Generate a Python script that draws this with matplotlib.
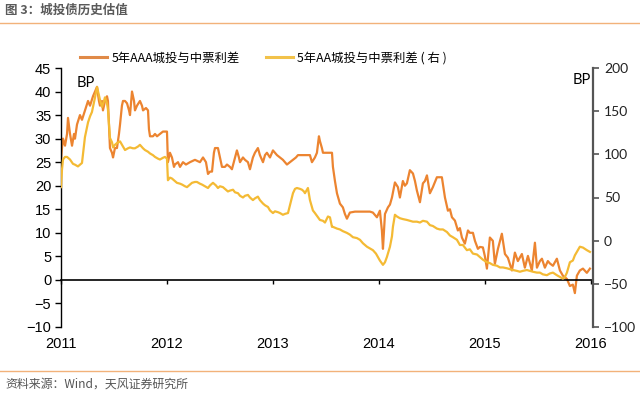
import matplotlib
matplotlib.use("Agg")
import matplotlib.pyplot as plt
from matplotlib.lines import Line2D

plt.rcParams['font.family'] = ['Liberation Sans', 'Noto Sans CJK SC', 'DejaVu Sans']

# ---------------- data ----------------
aaa_year = [2011.000, 2011.009, 2011.019, 2011.038, 2011.057, 2011.066, 2011.085, 2011.104, 2011.123, 2011.132,
            2011.151, 2011.179, 2011.198, 2011.226, 2011.255, 2011.274, 2011.302, 2011.321, 2011.340, 2011.358,
            2011.368, 2011.387, 2011.396, 2011.415, 2011.434, 2011.443, 2011.453, 2011.462, 2011.481, 2011.491,
            2011.509, 2011.528, 2011.547, 2011.557, 2011.575, 2011.585, 2011.604, 2011.623, 2011.642, 2011.651,
            2011.670, 2011.689, 2011.698, 2011.717, 2011.745, 2011.764, 2011.774, 2011.802, 2011.821, 2011.830,
            2011.840, 2011.868, 2011.887, 2011.906, 2011.934, 2011.962, 2012.000, 2012.009, 2012.028, 2012.047,
            2012.066, 2012.075, 2012.104, 2012.123, 2012.151, 2012.179, 2012.217, 2012.264, 2012.311, 2012.340,
            2012.368, 2012.387, 2012.406, 2012.425, 2012.443, 2012.453, 2012.481, 2012.500, 2012.519, 2012.547,
            2012.566, 2012.594, 2012.613, 2012.642, 2012.660, 2012.679, 2012.689, 2012.717, 2012.736, 2012.764,
            2012.783, 2012.811, 2012.830, 2012.858, 2012.877, 2012.906, 2012.925, 2012.943, 2012.972, 2013.000,
            2013.038, 2013.066, 2013.094, 2013.132, 2013.160, 2013.189, 2013.217, 2013.236, 2013.302, 2013.349,
            2013.368, 2013.396, 2013.415, 2013.434, 2013.443, 2013.462, 2013.472, 2013.519, 2013.557, 2013.566,
            2013.585, 2013.604, 2013.632, 2013.660, 2013.679, 2013.698, 2013.726, 2013.774, 2013.821, 2013.868,
            2013.915, 2013.943, 2013.981, 2014.009, 2014.028, 2014.038, 2014.057, 2014.085, 2014.104, 2014.123,
            2014.151, 2014.179, 2014.198, 2014.226, 2014.245, 2014.264, 2014.292, 2014.321, 2014.340, 2014.358,
            2014.387, 2014.415, 2014.434, 2014.453, 2014.481, 2014.509, 2014.547, 2014.594, 2014.623, 2014.651,
            2014.670, 2014.689, 2014.717, 2014.745, 2014.764, 2014.783, 2014.811, 2014.840, 2014.858, 2014.887,
            2014.906, 2014.934, 2014.953, 2014.981, 2015.000, 2015.019, 2015.047, 2015.075, 2015.094, 2015.123,
            2015.160, 2015.189, 2015.217, 2015.255, 2015.283, 2015.311, 2015.349, 2015.377, 2015.406, 2015.443,
            2015.472, 2015.491, 2015.519, 2015.538, 2015.566, 2015.594, 2015.613, 2015.642, 2015.679, 2015.708,
            2015.736, 2015.774, 2015.802, 2015.830, 2015.849, 2015.868, 2015.896, 2015.925, 2015.962, 2015.991]
aaa_spread = [25.4, 28, 30, 28.5, 31, 34.4, 31, 28.5, 31, 30,
              33, 35, 34, 36, 38, 37, 39, 40, 41, 38,
              37, 38, 36, 38, 39, 38, 33, 28, 27, 26,
              28, 28, 31, 33, 37, 38, 38, 37.5, 36, 35,
              40, 38, 36, 37, 38, 37, 36, 36.5, 36, 32,
              30.5, 30.5, 31, 30.5, 31, 31.5, 31.5, 25, 27, 26,
              24, 24.5, 25, 24, 25, 24.5, 25, 25.5, 25, 26,
              25, 22.5, 23, 23, 27, 28, 28, 26, 24, 24,
              24.5, 24, 23.5, 26, 27.5, 26, 25, 26, 25.5, 25,
              23.5, 26, 27, 28, 26.5, 25, 26.5, 27, 26, 27.5,
              26.5, 26, 25.5, 24.5, 25, 25.5, 26, 26.5, 26.5, 26.5,
              25, 26, 27, 30.5, 29.5, 28, 27, 27, 27, 24,
              21, 18.4, 16.2, 15.4, 14, 13, 14.3, 14.5, 14.5, 14.5,
              14.5, 14.3, 13.3, 14.7, 10.5, 6.6, 14, 15.4, 16, 17.5,
              20.7, 19.7, 17.5, 21, 20, 20.5, 23.3, 22.6, 21, 19,
              16.5, 20.5, 21, 22.2, 18.4, 19.7, 21.8, 21.8, 17.5, 14.7,
              15, 13.3, 12.6, 10.5, 11, 9, 7.7, 10.5, 10, 10,
              8.3, 6.6, 7, 6.9, 5, 2.4, 9, 8.3, 3.4, 6.6,
              9.8, 5.5, 4.7, 2, 5.8, 4, 5.5, 2.6, 5.1, 2,
              7.9, 2.6, 4, 4.5, 2.6, 4, 3.5, 3, 4.5, 2,
              0.9, 0.2, -1.3, -1, -2.8, 0.9, 2, 2.4, 1.5, 2.4]

aa_year = [2011.000, 2011.009, 2011.019, 2011.038, 2011.057, 2011.085, 2011.113, 2011.132, 2011.160, 2011.179,
           2011.198, 2011.226, 2011.255, 2011.274, 2011.292, 2011.321, 2011.340, 2011.349, 2011.368, 2011.387,
           2011.406, 2011.415, 2011.434, 2011.443, 2011.462, 2011.481, 2011.491, 2011.509, 2011.528, 2011.557,
           2011.585, 2011.604, 2011.632, 2011.651, 2011.679, 2011.698, 2011.726, 2011.745, 2011.774, 2011.792,
           2011.821, 2011.840, 2011.868, 2011.887, 2011.915, 2011.934, 2011.962, 2011.981, 2012.000, 2012.009,
           2012.028, 2012.047, 2012.075, 2012.094, 2012.123, 2012.142, 2012.170, 2012.189, 2012.217, 2012.236,
           2012.264, 2012.283, 2012.311, 2012.330, 2012.358, 2012.387, 2012.406, 2012.434, 2012.462, 2012.481,
           2012.500, 2012.528, 2012.557, 2012.575, 2012.594, 2012.623, 2012.642, 2012.670, 2012.689, 2012.717,
           2012.736, 2012.764, 2012.783, 2012.811, 2012.830, 2012.858, 2012.877, 2012.906, 2012.925, 2012.953,
           2012.972, 2013.000, 2013.019, 2013.047, 2013.066, 2013.094, 2013.113, 2013.142, 2013.160, 2013.189,
           2013.208, 2013.226, 2013.255, 2013.274, 2013.292, 2013.302, 2013.321, 2013.330, 2013.349, 2013.377,
           2013.396, 2013.425, 2013.443, 2013.472, 2013.491, 2013.519, 2013.538, 2013.557, 2013.566, 2013.604,
           2013.632, 2013.660, 2013.698, 2013.726, 2013.755, 2013.792, 2013.821, 2013.849, 2013.887, 2013.915,
           2013.943, 2013.972, 2013.991, 2014.009, 2014.038, 2014.057, 2014.075, 2014.104, 2014.123, 2014.132,
           2014.151, 2014.170, 2014.198, 2014.226, 2014.264, 2014.292, 2014.321, 2014.358, 2014.387, 2014.415,
           2014.453, 2014.481, 2014.509, 2014.547, 2014.575, 2014.604, 2014.642, 2014.670, 2014.698, 2014.736,
           2014.764, 2014.792, 2014.830, 2014.858, 2014.887, 2014.925, 2014.953, 2014.981, 2015.019, 2015.047,
           2015.075, 2015.113, 2015.142, 2015.170, 2015.208, 2015.236, 2015.264, 2015.302, 2015.330, 2015.358,
           2015.396, 2015.425, 2015.453, 2015.491, 2015.519, 2015.547, 2015.585, 2015.613, 2015.642, 2015.679,
           2015.708, 2015.736, 2015.755, 2015.774, 2015.802, 2015.830, 2015.849, 2015.868, 2015.896, 2015.925,
           2015.962, 2015.991]
aa_spread = [62, 82, 94, 97, 97, 94, 89, 88, 86, 88,
             90, 120, 137, 144, 149, 166, 178, 173, 163, 155,
             162, 166, 159, 152, 119, 114, 108, 111, 113, 115,
             109, 105, 107, 108, 107, 107, 109, 111, 107, 105,
             103, 101, 99, 97, 95, 94, 96, 97, 95, 70,
             73, 72, 69, 67, 66, 65, 63, 62, 65, 67,
             68, 68, 66, 65, 63, 61, 64, 67, 64, 61,
             63, 62, 59, 57, 58, 59, 56, 55, 52, 50,
             52, 53, 50, 47, 49, 51, 47, 43, 41, 39,
             35, 32, 34, 33, 32, 30, 31, 32, 41, 55,
             60, 61, 60, 59, 57, 55, 59, 61, 47, 35,
             32, 27, 24, 23, 21, 28, 27, 16, 16, 14,
             13, 11, 9, 7, 4, 3, 1, -3, -7, -9,
             -11, -15, -19, -23, -28, -25, -19, -7, 5, 16,
             30, 28, 26, 25, 24, 23, 22, 22, 21, 23,
             22, 18, 17, 14, 13, 13, 10, 6, 4, 1,
             -5, -5, -11, -10, -15, -16, -19, -22, -25, -26,
             -28, -29, -31, -31, -32, -33, -34, -35, -36, -35,
             -34, -35, -36, -37, -37, -39, -40, -38, -37, -40,
             -42, -44, -42, -37, -25, -23, -17, -13, -7, -8,
             -11, -13]

year_ticks = [2011, 2012, 2013, 2014, 2015, 2016]
left_ticks = [-10, -5, 0, 5, 10, 15, 20, 25, 30, 35, 40, 45]
right_ticks = [-100, -50, 0, 50, 100, 150, 200]

label_aaa = '5年AAA城投与中票利差'
label_aa = '5年AA城投与中票利差 ( 右 )'
title_text = '图 3：城投债历史估值'
source_text = '资料来源：Wind，天风证券研究所'

# ---------------- styles ----------------
c_aaa = '#EC8430'
c_aa = '#F4BA34'
c_rule = '#F2B27A'
cjk = ['Noto Sans CJK SC', 'DejaVu Sans']

fig = plt.figure(figsize=(6.4, 3.97), dpi=100)
fig.patch.set_facecolor('white')

ax = fig.add_axes([61 / 640, 1 - 327 / 397, (593 - 61) / 640, (327 - 68) / 397])
ax2 = ax.twinx()

ax.plot(aaa_year, aaa_spread, color=c_aaa, lw=1.6, solid_joinstyle='round')
ax2.plot(aa_year, aa_spread, color=c_aa, lw=1.6, solid_joinstyle='round')

ax.set_xlim(2011, 2016.02)
ax.set_ylim(-10, 45)
ax2.set_ylim(-100, 200)

ax.set_yticks(left_ticks)
ax2.set_yticks(right_ticks)

for s in ['top', 'right']:
    ax.spines[s].set_visible(False)
ax.spines['left'].set_color('black')
ax.spines['left'].set_linewidth(1.0)
ax.spines['bottom'].set_position(('data', 0))
ax.spines['bottom'].set_color('black')
ax.spines['bottom'].set_linewidth(1.2)

for s in ['top', 'left', 'bottom']:
    ax2.spines[s].set_visible(False)
ax2.spines['right'].set_color('#555555')
ax2.spines['right'].set_linewidth(1.6)

ax.set_xticks(year_ticks)
ax.tick_params(axis='x', direction='out', length=3, width=1, labelbottom=False, color='black')
ax.tick_params(axis='y', direction='out', length=4, width=1, labelsize=10.5, pad=3, colors='black')
ax2.tick_params(axis='y', direction='out', length=4, width=1.2, labelsize=10, pad=4,
                color='#555555', labelcolor='#222222')
for lab in ax2.get_yticklabels():
    lab.set_family('Lato')

sec = ax.secondary_xaxis(0)
sec.set_xticks(year_ticks)
sec.set_xticklabels([str(y) for y in year_ticks])
sec.spines['bottom'].set_visible(False)
sec.tick_params(axis='x', length=0, labelsize=10.5, pad=7)

ax.text(0.047, 0.942, 'BP', transform=ax.transAxes, ha='center', va='center',
        fontsize=10.5, family='Lato', color='black')
ax.text(0.978, 0.954, 'BP', transform=ax.transAxes, ha='center', va='center',
        fontsize=10.5, family='Lato', color='black')

handles = [Line2D([], [], color='#E08A48', lw=2.2), Line2D([], [], color='#F2C24A', lw=2.2)]
fig.legend(handles, [label_aaa, label_aa], loc='center left',
           bbox_to_anchor=(80 / 640, 1 - 58 / 397), ncol=2, frameon=False,
           prop={'family': cjk, 'size': 8.9}, handlelength=2.2, handletextpad=0.35,
           columnspacing=2.1, borderpad=0, borderaxespad=0)

fig.text(5 / 640, 1 - 10 / 397, title_text, ha='left', va='center', fontsize=9,
         family=cjk, color='#5a5a5a', weight='bold')
fig.add_artist(Line2D([0, 1], [1 - 22.5 / 397, 1 - 22.5 / 397], transform=fig.transFigure,
                      color=c_rule, lw=1.0))
fig.add_artist(Line2D([0, 1], [1 - 371 / 397, 1 - 371 / 397], transform=fig.transFigure,
                      color=c_rule, lw=1.0))
fig.text(5 / 640, 1 - 384 / 397, source_text, ha='left', va='center', fontsize=8.6,
         family=cjk, color='#555555')

fig.savefig('out.png', dpi=100, facecolor='white')
